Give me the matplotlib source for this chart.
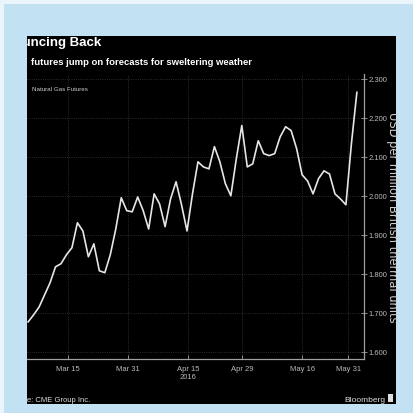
import numpy as np
import matplotlib
matplotlib.use("Agg")
import matplotlib.pyplot as plt
from matplotlib.patches import Rectangle

# natural gas futures, USD per mmBtu, one value per trading day
prices = [1.677, 1.695, 1.715, 1.746, 1.777, 1.818, 1.826, 1.849, 1.867, 1.931,
          1.910, 1.844, 1.877, 1.808, 1.803, 1.849, 1.915, 1.995, 1.962, 1.959,
          1.997, 1.962, 1.915, 2.005, 1.979, 1.921, 1.992, 2.036, 1.977, 1.910,
          2.005, 2.087, 2.074, 2.069, 2.126, 2.087, 2.031, 2.000, 2.095, 2.180,
          2.074, 2.082, 2.141, 2.108, 2.103, 2.108, 2.151, 2.177, 2.167, 2.121,
          2.054, 2.038, 2.005, 2.044, 2.064, 2.056, 2.005, 1.992, 1.977, 2.133,
          2.265]
tick_pos = [7.3, 18.2, 29.2, 39.0, 50.0, 58.4]
tick_lab = ["Mar 15", "Mar 31", "Apr 15\n2016", "Apr 29", "May 16", "May 31"]
yticks = [1.6, 1.7, 1.8, 1.9, 2.0, 2.1, 2.2, 2.3]

W = 414.0
def fx(px):
    return px / W
def fy(py):
    return 1 - py / W

narrow = ['Liberation Sans', 'DejaVu Sans']

fig = plt.figure(figsize=(4.14, 4.14), dpi=100, facecolor='#c2e1f2')
fig.patches.append(Rectangle((0, fy(5)), 1, 5 / W, transform=fig.transFigure,
                             facecolor='#e9f4fb', edgecolor='none', zorder=0))
fig.patches.append(Rectangle((0, 0), fx(4), 1, transform=fig.transFigure,
                             facecolor='#e9f4fb', edgecolor='none', zorder=0))
panel = Rectangle((fx(27), fy(405)), (396 - 27) / W, (405 - 37) / W,
                  transform=fig.transFigure, facecolor='black', edgecolor='none', zorder=1)
fig.patches.append(panel)

ax = fig.add_axes([fx(27), fy(360), (364 - 27) / W, (360 - 75) / W])
ax.set_zorder(2)
ax.set_facecolor('none')
x = np.arange(len(prices))
ax.plot(x, prices, color='#e6e6e6', lw=1.2, solid_joinstyle='round')
ax.set_xlim(-0.2, 61.3)
ax.set_ylim(1.582, 2.312)

for s in ['top', 'left']:
    ax.spines[s].set_visible(False)
for s in ['bottom', 'right']:
    ax.spines[s].set_color('#a0a0a0')
    ax.spines[s].set_linewidth(0.9)

ax.yaxis.tick_right()
ax.set_yticks(yticks)
ax.set_yticklabels(["%.3f" % v for v in yticks], family=narrow)
ax.set_xticks(tick_pos)
ax.set_xticklabels(tick_lab, family=narrow)
ax.tick_params(axis='y', direction='inout', length=4, width=0.6, colors='#a0a0a0',
               labelsize=5.5, pad=1, labelcolor='#bbbbbb')
ax.tick_params(axis='x', direction='in', length=3, width=0.6, colors='#a0a0a0',
               labelsize=5.5, pad=4, labelcolor='#bbbbbb')
ax.grid(True, color='#3a3a3a', lw=0.6, ls=':')
ax.yaxis.set_label_position('right')
ax.set_ylabel("USD per million British thermal units", rotation=-90, color='#d0d0d0',
              fontsize=8.3, labelpad=-1, va='bottom', family='DejaVu Sans')

t1 = fig.text(fx(101), fy(46), "Bouncing Back", color='white', fontsize=9.5,
              fontweight='bold', family=narrow, ha='right', va='baseline', zorder=3)
t1.set_clip_path(panel)
fig.text(fx(31), fy(65), "futures jump on forecasts for sweltering weather", color='white',
         fontsize=6.8, fontweight='bold', family=narrow, ha='left', va='baseline', zorder=3)
fig.text(fx(32), fy(91), "Natural Gas Futures", color='#cccccc', fontsize=4.5,
         family=narrow, ha='left', va='baseline', zorder=3)
t2 = fig.text(fx(90), fy(402), "Source: CME Group Inc.", color='#dddddd', fontsize=5.5,
              family=narrow, ha='right', va='baseline', zorder=3)
t2.set_clip_path(panel)
fig.text(fx(386), fy(402), "Bloomberg", color='#dddddd', fontsize=6,
         family=narrow, ha='right', va='baseline', zorder=3)
fig.patches.append(Rectangle((fx(388), fy(403)), 5 / W, 8 / W, transform=fig.transFigure,
                             facecolor='#dddddd', edgecolor='none', zorder=3))

fig.savefig('out.png', dpi=100, facecolor=fig.get_facecolor())
